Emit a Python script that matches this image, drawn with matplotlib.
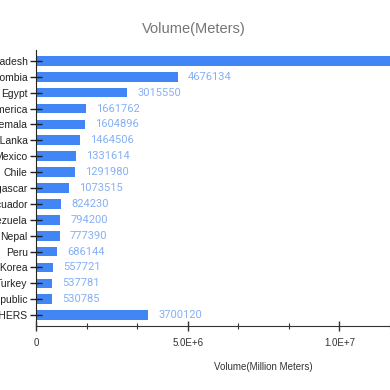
import numpy as np
import matplotlib
matplotlib.use("Agg")
import matplotlib.pyplot as plt
import matplotlib.ticker as ticker

# --- data ---
countries = ["Bangladesh", "Colombia", "Egypt", "South America", "Guatemala",
             "Sri Lanka", "Mexico", "Chile", "Madagascar", "Ecuador",
             "Venezuela", "Nepal", "Peru", "Republic of Korea", "Turkey",
             "Dominican Republic", "OTHERS"]
volumes = [12100000, 4676134, 3015550, 1661762, 1604896,
           1464506, 1331614, 1291980, 1073515, 824230,
           794200, 777390, 686144, 557721, 537781,
           530785, 3700120]
x_ticks = [0, 5e6, 1e7]
x_tick_labels = ["0", "5.0E+6", "1.0E+7"]

W = H = 390
fig = plt.figure(figsize=(3.9, 3.9), dpi=100)
# axes run past the right edge of the picture (chart is cut off there)
left, right, top, bottom = 36, 491, 50, 326
ax = fig.add_axes([left / W, 1 - bottom / H, (right - left) / W, (bottom - top) / H])

y = np.arange(len(countries))
ax.barh(y, volumes, height=0.61, color="#4285f4", zorder=2)

for yi, v in zip(y, volumes):
    ax.text(v + 3.3e5, yi, str(v), va="center", ha="left",
            color="#86aff5", fontsize=8, family="Roboto")

ax.set_ylim(16.68, -0.68)
ax.set_xlim(0, 1.5e7)
ax.set_yticks(y)
ax.set_yticklabels(countries, fontsize=7.5, color="#222222", family="Liberation Sans")
ax.set_xticks(x_ticks)
ax.set_xticklabels(x_tick_labels, fontsize=7, color="#333333", family="Liberation Sans")
ax.xaxis.set_minor_locator(ticker.MultipleLocator(5e6 / 3))

ax.tick_params(axis="y", direction="inout", length=8, width=1, color="#222222", pad=2)
ax.tick_params(axis="x", which="major", direction="inout", length=7, width=1,
               color="#333333", pad=5)
ax.tick_params(axis="x", which="minor", direction="inout", length=4, width=0.8,
               color="#333333")

for s in ["top", "right"]:
    ax.spines[s].set_visible(False)
ax.spines["left"].set_color("#222222")
ax.spines["bottom"].set_color("#333333")
ax.set_axisbelow(False)

ax.set_xlabel("Volume(Million Meters)", fontsize=7, color="#333333",
              family="Liberation Sans", labelpad=10)

fig.text(194 / W, 1 - 29 / H, "Volume(Meters)", ha="center", va="center",
         fontsize=10.5, color="#757575", family="Liberation Sans")

fig.savefig("out.png", dpi=100)
